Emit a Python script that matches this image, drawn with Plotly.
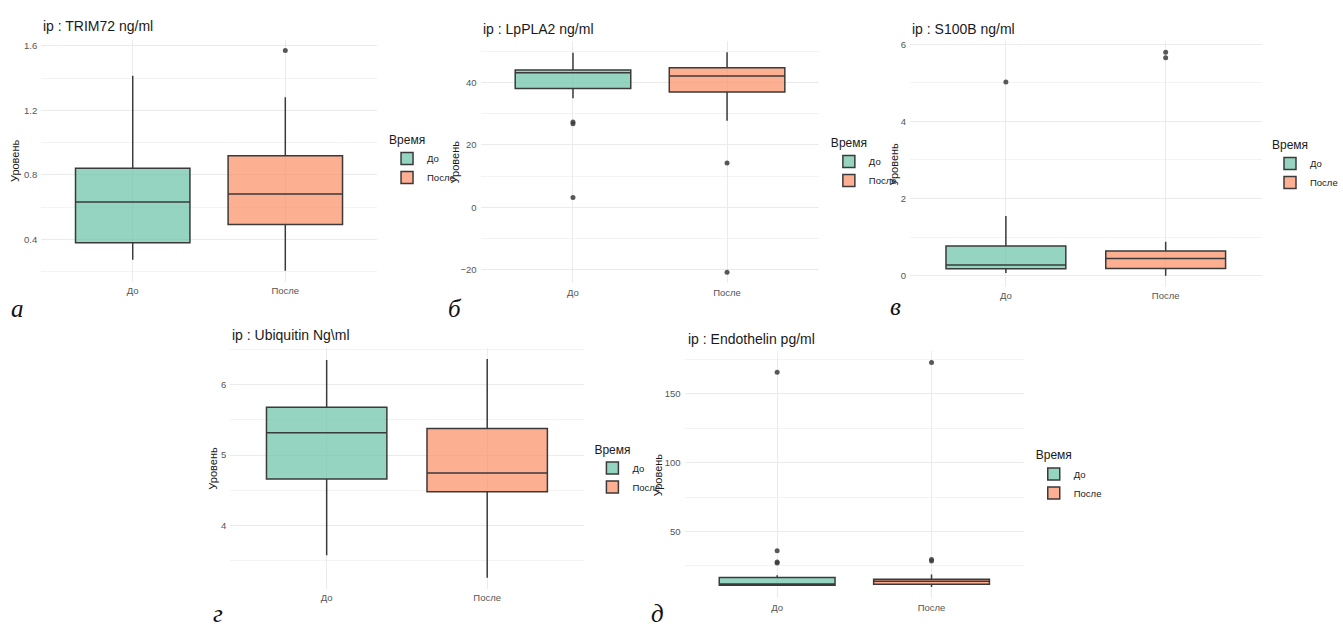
import plotly.graph_objects as go

W, H = 1343, 629

groups = ["До", "После"]
fills = ["rgba(102,194,165,0.7)", "rgba(252,141,98,0.7)"]

titles = ["ip : TRIM72 ng/ml", "ip : LpPLA2 ng/ml", "ip : S100B ng/ml",
          "ip : Ubiquitin Ng\\ml", "ip : Endothelin pg/ml"]
panel_letters = ["а", "б", "в", "г", "д"]
y_label = "Уровень"
legend_title = "Время"

# box statistics per panel: [lower whisker, Q1, median, Q3, upper whisker] for До / После
trim72_do = [0.273, 0.378, 0.631, 0.841, 1.415]
trim72_posle = [0.205, 0.491, 0.680, 0.918, 1.281]
trim72_out_do = []
trim72_out_posle = [1.571]

lppla2_do = [35.0, 38.1, 43.2, 44.05, 49.6]
lppla2_posle = [27.8, 37.0, 42.1, 44.8, 49.8]
lppla2_out_do = [27.4, 26.8, 3.1]
lppla2_out_posle = [14.2, -20.9]

s100b_do = [0.07, 0.18, 0.28, 0.77, 1.55]
s100b_posle = [0.0, 0.19, 0.45, 0.64, 0.88]
s100b_out_do = [5.02]
s100b_out_posle = [5.79, 5.65]

ubiq_do = [3.575, 4.658, 5.316, 5.68, 6.353]
ubiq_posle = [3.254, 4.479, 4.743, 5.378, 6.367]
ubiq_out_do = []
ubiq_out_posle = []

endo_do = [10.7, 11.1, 12.0, 16.6, 18.3]
endo_posle = [9.8, 11.8, 14.0, 15.4, 18.8]
endo_out_do = [165.7, 36.1, 27.9, 27.2]
endo_out_posle = [172.7, 29.8, 28.6]

stats = [
    (trim72_do, trim72_posle, trim72_out_do, trim72_out_posle),
    (lppla2_do, lppla2_posle, lppla2_out_do, lppla2_out_posle),
    (s100b_do, s100b_posle, s100b_out_do, s100b_out_posle),
    (ubiq_do, ubiq_posle, ubiq_out_do, ubiq_out_posle),
    (endo_do, endo_posle, endo_out_do, endo_out_posle),
]
major_dtick = [0.4, 20, 2, 1, 50]

# panel geometry in pixels: (left, right, top, bottom)
panels_px = [
    (41.7, 381.7, 36.7, 280.0),
    (486.7, 830.0, 38.3, 281.7),
    (921.7, 1277.7, 38.3, 285.3),
    (233.3, 591.0, 346.7, 588.5),
    (693.3, 1037.3, 350.0, 598.0),
]
title_px = [(41.7, 23.5), (486.7, 26), (921.7, 26), (233.3, 334), (694.3, 337.5)]
ylabel_x_px = [14.7, 461, 905, 216, 666]
legend_px = [(392, 126), (839.5, 129), (1286.5, 131), (600, 437), (1047, 443)]
letter_px = [(17.5, 323), (461, 323), (907, 321), (221, 629), (666, 629)]

TEXT = "#1a1a1a"
TICK = "#555555"
GRID = "#ebebeb"
GRID_MINOR = "#f3f3f3"
FONT = "Liberation Sans, Arial, sans-serif"

fig = go.Figure()
layout = dict(
    width=W, height=H, margin=dict(l=0, r=0, t=0, b=0),
    paper_bgcolor="white", plot_bgcolor="white",
    font=dict(family=FONT, color=TEXT),
    boxmode="overlay", annotations=[],
)

for i, (s_do, s_po, o_do, o_po) in enumerate(stats):
    n = "" if i == 0 else str(i + 1)
    xa, ya = "x" + n, "y" + n
    leg = "legend" + n
    for g, s, fc in zip(groups, (s_do, s_po), fills):
        fig.add_trace(go.Box(
            x=[g], lowerfence=[s[0]], q1=[s[1]], median=[s[2]], q3=[s[3]],
            upperfence=[s[4]], name=g, width=0.75, whiskerwidth=0,
            fillcolor=fc, line=dict(color="#3a3a3a", width=1.5),
            boxpoints=False, xaxis=xa, yaxis=ya, legend=leg,
            hoverinfo="skip",
        ))
    for g, o in zip(groups, (o_do, o_po)):
        if o:
            fig.add_trace(go.Scatter(
                x=[g] * len(o), y=o, mode="markers", showlegend=False,
                marker=dict(color="rgba(60,60,60,0.85)", size=5),
                xaxis=xa, yaxis=ya, hoverinfo="skip",
            ))
    # y range with 5% expansion like ggplot
    vals = list(s_do) + list(s_po) + list(o_do) + list(o_po)
    lo, hi = min(vals), max(vals)
    pad = 0.05 * (hi - lo)
    l, r, t, b = panels_px[i]
    dt = major_dtick[i]
    layout["xaxis" + n] = dict(
        domain=[l / W, r / W], anchor=ya, type="category",
        categoryorder="array", categoryarray=groups, range=[-0.6, 1.6],
        showgrid=True, gridcolor=GRID, gridwidth=1.2, zeroline=False,
        showline=False, ticks="", tickfont=dict(size=9.5, color=TICK),
        ticklabelstandoff=2, fixedrange=True,
    )
    layout["yaxis" + n] = dict(
        domain=[1 - b / H, 1 - t / H], anchor=xa, range=[lo - pad, hi + pad],
        tickmode="linear", tick0=0, dtick=dt,
        showgrid=True, gridcolor=GRID, gridwidth=1.3, zeroline=False,
        showline=False, ticks="", tickfont=dict(size=9.5, color=TICK),
        ticklabelstandoff=3,
        minor=dict(dtick=dt / 2, tick0=0, showgrid=True, gridcolor=GRID_MINOR,
                   gridwidth=1),
        fixedrange=True,
    )
    lx, ly = legend_px[i]
    layout[leg] = dict(
        x=lx / W, y=1 - ly / H, xanchor="left", yanchor="top",
        title=dict(text=legend_title, font=dict(size=12, color=TEXT)),
        font=dict(size=9.5, color=TEXT), bgcolor="rgba(0,0,0,0)",
        tracegroupgap=0, itemwidth=30,
    )
    tx, ty = title_px[i]
    layout["annotations"].append(dict(
        text=titles[i], x=tx / W, y=1 - ty / H, xref="paper", yref="paper",
        xanchor="left", yanchor="middle", showarrow=False,
        font=dict(size=14, color=TEXT, family=FONT),
    ))
    layout["annotations"].append(dict(
        text=y_label, x=ylabel_x_px[i] / W, y=1 - (t + b) / 2 / H,
        xref="paper", yref="paper", xanchor="center", yanchor="middle",
        textangle=-90, showarrow=False, font=dict(size=11, color=TEXT),
    ))
    px_, py_ = letter_px[i]
    layout["annotations"].append(dict(
        text=panel_letters[i], x=px_ / W, y=1 - py_ / H, xref="paper",
        yref="paper", xanchor="center", yanchor="bottom", showarrow=False,
        font=dict(size=25, color="#111111", family="Liberation Serif, serif",
                  style="italic"),
    ))

fig.update_layout(**layout)
fig.write_html("out.html")
